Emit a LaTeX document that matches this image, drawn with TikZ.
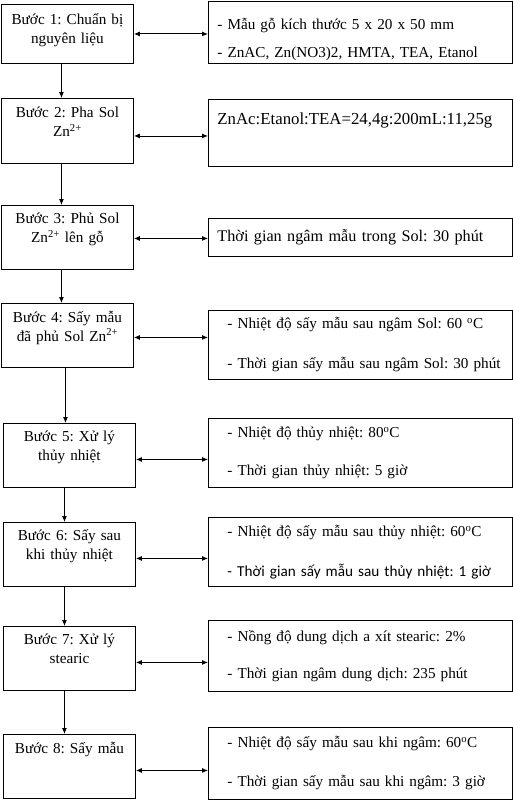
\documentclass[tikz,border=0pt]{standalone}
\usepackage{fontspec}
\setmainfont{Liberation Serif}
\newfontfamily\calibrifont{Carlito}
\usetikzlibrary{arrows.meta}
\frenchspacing

\tikzset{
  stepbox/.style={draw, line width=0.9pt, anchor=north west, text width=132pt, inner xsep=0pt, inner ysep=0pt, minimum height=64pt, align=center, font=\fontsize{15.2}{19}\selectfont},
  infobox/.style={draw, line width=0.9pt, anchor=north west, text width=304pt, inner xsep=0pt, inner ysep=0pt, align=left, font=\fontsize{15.2}{19}\selectfont, execute at begin node={\leftskip=#1}},
  infobox/.default=9pt,
  flow/.style={-{Latex[length=6pt,width=5pt]}, line width=0.9pt},
  twoway/.style={{Latex[length=6pt,width=5pt]}-{Latex[length=6pt,width=5pt]}, line width=0.9pt}
}

\begin{document}
\begin{tikzpicture}[x=1pt, y=-1pt]
    \useasboundingbox (0,0) rectangle (513,800);

    % Steps
    \node[stepbox, minimum height=59pt] (s1) at (1,4) {Bước 1: Chuẩn bị\\nguyên liệu\\[-8pt]~};
    \node[stepbox, minimum height=65pt] (s2) at (1,98) {Bước 2: Pha Sol\\Zn\textsuperscript{2+}\\~};
    \node[stepbox] (s3) at (1,205) {Bước 3: Phủ Sol\\Zn\textsuperscript{2+} lên gỗ\\~};
    \node[stepbox] (s4) at (1,303) {Bước 4: Sấy mẫu\\đã phủ Sol Zn\textsuperscript{2+}\\~};
    \node[stepbox] (s5) at (3,423) {Bước 5: Xử lý\\thủy nhiệt\\~};
    \node[stepbox] (s6) at (3,522) {Bước 6: Sấy sau\\khi thủy nhiệt\\~};
    \node[stepbox] (s7) at (3,626) {Bước 7: Xử lý\\stearic\\~};
    \node[stepbox] (s8) at (3,734) {Bước 8: Sấy mẫu\\~\\~};

    % Conditions
    \node[infobox, minimum height=62pt] (i1) at (208,1) {- Mẫu gỗ kích thước 5 x 20 x 50 mm\\[9pt]- ZnAC, Zn(NO3)2, HMTA, TEA, Etanol\\[-29pt]~};
    \node[infobox, minimum height=67pt, font=\fontsize{16.8}{19}\selectfont] (i2) at (208,99) {ZnAc:Etanol:TEA=24,4g:200mL:11,25g\\[10pt]~};
    \node[infobox, minimum height=38pt, font=\fontsize{16.2}{19}\selectfont] (i3) at (208,218) {Thời gian ngâm mẫu trong Sol: 30 phút};
    \node[infobox=19pt, minimum height=69pt] (i4) at (208,310) {- Nhiệt độ sấy mẫu sau ngâm Sol: 60 \textsuperscript{o}C\\[21pt]- Thời gian sấy mẫu sau ngâm Sol: 30 phút};
    \node[infobox=19pt, minimum height=69pt] (i5) at (208,418) {- Nhiệt độ thủy nhiệt: 80\textsuperscript{o}C\\[19pt]- Thời gian thủy nhiệt: 5 giờ};
    \node[infobox=19pt, minimum height=69pt] (i6) at (208,517) {- Nhiệt độ sấy mẫu sau thủy nhiệt: 60\textsuperscript{o}C\\[21pt]{\calibrifont - Thời gian sấy mẫu sau thủy nhiệt: 1 giờ}};
    \node[infobox=19pt, minimum height=71pt] (i7) at (208,620) {- Nồng độ dung dịch a xít stearic: 2\%\\[18pt]- Thời gian ngâm dung dịch: 235 phút};
    \node[infobox=19pt, minimum height=72pt] (i8) at (208,727) {- Nhiệt độ sấy mẫu sau khi ngâm: 60\textsuperscript{o}C\\[20pt]- Thời gian sấy mẫu sau khi ngâm: 3 giờ};

    % Steps to next step
    \foreach \a/\b/\dx in {1/2/-6, 2/3/-6, 3/4/-6, 4/5/-2, 5/6/-5, 6/7/-5, 7/8/-5} {
        \draw[flow] ([xshift=\dx pt]s\a.south) -- ([xshift=\dx pt]s\a.south |- s\b.north);
    }

    % Steps to conditions
    \foreach \i/\dy in {1/0, 2/-5, 3/-1, 4/-2, 5/-4, 6/-4, 7/-4, 8/-4} {
        \draw[twoway] ([yshift=\dy pt]s\i.east) -- ([yshift=\dy pt]s\i.east -| i\i.west);
    }

\end{tikzpicture}
\end{document}
